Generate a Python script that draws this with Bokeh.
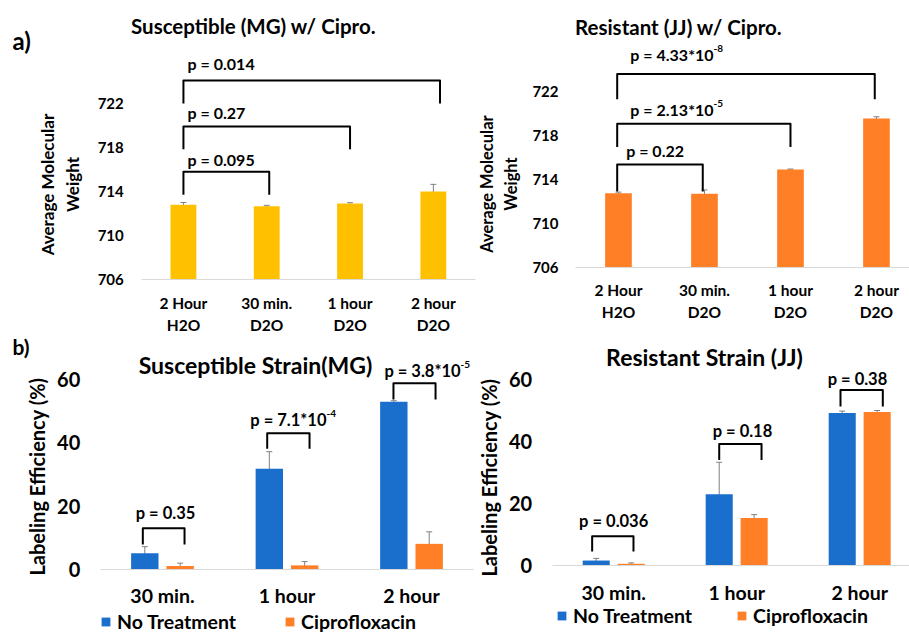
from bokeh.plotting import figure
from bokeh.models import (ColumnDataSource, Whisker, TeeHead, Label, Legend, LegendItem,
                          FixedTicker, Range1d)
from bokeh.layouts import column, row
from bokeh.embed import file_html
from bokeh.resources import INLINE
from bokeh.core.properties import value

FONT = "Lato"
YELLOW = "#FFC000"
ORANGE = "#FF7F27"
BLUE = "#1B6FCC"
ERRC = "#808080"

# ---------------- data ----------------
cats_a = ["2 Hour\nH2O", "30 min.\nD2O", "1 hour\nD2O", "2 hour\nD2O"]
mg_mw = [712.8, 712.65, 712.9, 714.0]
mg_mw_err = [0.2, 0.09, 0.08, 0.65]
jj_mw = [712.75, 712.7, 714.9, 719.55]
jj_mw_err = [0.1, 0.35, 0.05, 0.15]
mw_ticks = [706, 710, 714, 718, 722]

cats_b = ["30 min.", "1 hour", "2 hour"]
mg_none = [5.1, 31.8, 53.0]
mg_none_err = [2.1, 5.4, 0.3]
mg_cipro = [1.1, 1.3, 8.1]
mg_cipro_err = [0.9, 1.2, 3.8]
jj_none = [1.6, 23.0, 49.2]
jj_none_err = [0.7, 10.3, 0.6]
jj_cipro = [0.55, 15.3, 49.5]
jj_cipro_err = [0.3, 1.1, 0.5]
eff_ticks = [0, 20, 40, 60]
series_b = ["No Treatment", "Ciprofloxacin"]

# p-values
mg_mw_p = ["p = 0.095", "p = 0.27", "p = 0.014"]
jj_mw_p = ["p = 0.22", "p = 2.13*10", "p = 4.33*10"]
jj_mw_p_exp = ["", "-5", "-8"]
mg_eff_p = ["p = 0.35", "p = 7.1*10", "p = 3.8*10"]
mg_eff_p_exp = ["", "-4", "-5"]
jj_eff_p = ["p = 0.036", "p = 0.18", "p = 0.38"]

# ---------------- annotation geometry (data units) ----------------
mg_mw_br = dict(x0=[0.0, 0.0, 0.0], x1=[1.03, 2.0, 3.08],
                top=[715.8, 719.9, 724.1], foot=[713.7, 717.85, 722.0])
mg_mw_txt = dict(x=[0.05, 0.05, 0.05], y=[716.9, 721.2, 725.6])
jj_mw_br = dict(x0=[-0.015, -0.015, -0.015], x1=[0.98, 2.0, 2.98],
                top=[715.36, 719.06, 723.6], foot=[712.9, 716.95, 721.3])
jj_mw_txt = dict(x=[0.09, 1.105, 1.105], y=[716.6, 720.36, 725.36])
mg_eff_br = dict(x0=[-0.158, 0.841, 1.855], x1=[0.177, 1.181, 2.193],
                 top=[13.0, 43.0, 58.8], foot=[7.9, 38.1, 53.7])
mg_eff_txt = dict(x=[0.024, 1.317, 2.394], y=[17.7, 47.3, 62.8])
jj_eff_br = dict(x0=[-0.175, 0.858, 1.844], x1=[0.161, 1.202, 2.188],
                 top=[9.4, 39.2, 56.6], foot=[4.5, 34.0, 51.3])
jj_eff_txt = dict(x=[0.0, 1.047, 1.982], y=[14.2, 43.5, 60.3])


def make_fig(w, h, xr, yr, x_base, y_base, x_bounds, y_bounds, cats, ticks, tick_fs, xl_fs,
             ylab, ylab_fs, y_standoff, x_standoff, ylab_standoff):
    p = figure(width=w, height=h, x_range=Range1d(*xr), y_range=Range1d(*yr),
               output_backend="svg", toolbar_location=None, tools="",
               min_border_left=0, min_border_right=0, min_border_top=0, min_border_bottom=0)
    p.outline_line_color = None
    p.grid.visible = False
    p.background_fill_color = "white"
    p.border_fill_color = "white"
    xa = p.xaxis[0]
    xa.fixed_location = y_base
    xa.bounds = x_bounds
    xa.ticker = FixedTicker(ticks=list(range(len(cats))))
    xa.major_label_overrides = {i: c for i, c in enumerate(cats)}
    xa.major_tick_line_color = None
    xa.minor_tick_line_color = None
    xa.major_tick_out = 0
    xa.major_tick_in = 0
    xa.axis_line_color = "#D9D9D9"
    xa.axis_line_width = 1
    xa.major_label_standoff = x_standoff
    xa.major_label_text_font = FONT
    xa.major_label_text_font_style = "bold"
    xa.major_label_text_font_size = xl_fs
    xa.major_label_text_color = "black"
    ya = p.yaxis[0]
    ya.fixed_location = x_base
    ya.bounds = y_bounds
    ya.ticker = FixedTicker(ticks=ticks)
    ya.major_tick_line_color = None
    ya.minor_tick_line_color = None
    ya.major_tick_out = 0
    ya.major_tick_in = 0
    ya.axis_line_color = None
    ya.major_label_standoff = y_standoff
    ya.major_label_text_font = FONT
    ya.major_label_text_font_style = "bold"
    ya.major_label_text_font_size = tick_fs
    ya.major_label_text_color = "black"
    ya.axis_label = ylab
    ya.axis_label_text_font = FONT
    ya.axis_label_text_font_style = "bold"
    ya.axis_label_text_font_size = ylab_fs
    ya.axis_label_text_color = "black"
    ya.axis_label_standoff = ylab_standoff
    return p


def add_errors(p, xs, vals, errs):
    src = ColumnDataSource(dict(x=xs, upper=[v + e for v, e in zip(vals, errs)],
                                lower=[v - e for v, e in zip(vals, errs)]))
    w = Whisker(source=src, base="x", upper="upper", lower="lower",
                line_color=ERRC, line_width=1,
                upper_head=TeeHead(size=6, line_color=ERRC, line_width=1),
                lower_head=TeeHead(size=6, line_color=ERRC, line_width=1))
    p.add_layout(w)


def add_brackets(p, br):
    xs = [[a, a, b, b] for a, b in zip(br["x0"], br["x1"])]
    ys = [[f, t, t, f] for f, t in zip(br["foot"], br["top"])]
    p.multi_line(xs=xs, ys=ys, line_color="black", line_width=2, line_join="round")


def add_ptext(p, txt, labels, exps, fs, align_default):
    for x, y, lab, ex in zip(txt["x"], txt["y"], labels, exps):
        if ex:
            p.text(x=[x], y=[y], text=[lab], text_font=value(FONT), text_font_style="bold",
                   text_font_size=fs, text_align="right", text_baseline="middle",
                   text_color="black")
            p.text(x=[x], y=[y], text=[ex], text_font=value(FONT), text_font_style="bold",
                   text_font_size="10px", text_align="left", text_baseline="middle",
                   y_offset=-6, text_color="black")
        else:
            p.text(x=[x], y=[y], text=[lab], text_font=value(FONT), text_font_style="bold",
                   text_font_size=fs, text_align=align_default, text_baseline="middle",
                   text_color="black")


def add_label(p, x, y, text, fs, align="center"):
    p.add_layout(Label(x=x, y=y, x_units="screen", y_units="screen", text=text,
                       text_font=FONT, text_font_style="bold", text_font_size=fs,
                       text_align=align, text_baseline="middle", text_color="black"))


# ---------------- panel a (left) ----------------
idx_a = list(range(len(cats_a)))
a1 = make_fig(476, 333, (-2.196, 3.518), (701.09, 731.364), -0.5, 706, (-0.5, 3.5),
              (705, 724.28), cats_a, mw_ticks, "15px", "15.5px",
              "Average Molecular\nWeight", "17px", 18, 15, 11)
a1.vbar(x=idx_a, top=mg_mw, bottom=706, width=0.31, fill_color=YELLOW, line_color=None)
add_errors(a1, idx_a, mg_mw, mg_mw_err)
add_brackets(a1, mg_mw_br)
add_ptext(a1, mg_mw_txt, mg_mw_p, ["", "", ""], "16px", "left")
add_label(a1, 253, 308, "Susceptible (MG) w/ Cipro.", "20.5px")
add_label(a1, 12, 293, "a)", "24px", align="left")

# ---------------- panel a (right) ----------------
a2 = make_fig(433, 333, (-1.651, 3.384), (700.0, 730.27), -0.5, 706, (-0.5, 3.384),
              (704, 723.18), cats_a, mw_ticks, "15px", "15.5px",
              "Average Molecular\nWeight", "16.5px", 17, 14, 8)
a2.vbar(x=idx_a, top=jj_mw, bottom=706, width=0.31, fill_color=ORANGE, line_color=None)
add_errors(a2, idx_a, jj_mw, jj_mw_err)
add_brackets(a2, jj_mw_br)
add_ptext(a2, jj_mw_txt, jj_mw_p, jj_mw_p_exp, "16px", "left")
add_label(a2, 202, 307, "Resistant (JJ) w/ Cipro.", "20.5px")

# ---------------- panel b ----------------
idx_b = list(range(len(cats_b)))
dx = 0.142
bw = 0.22


def eff_panel(w, xr, yr, x_bounds, y_bounds, none, none_err, cipro, cipro_err, br, txt,
              plabs, pexp, title, tx, ty, leg_loc, leg_spacing):
    p = make_fig(w, 299, xr, yr, -0.5, 0, x_bounds, y_bounds, cats_b,
                 eff_ticks, "20px", "19.5px", "Labeling Efficiency (%)", "20px", 20, 15, 5)
    xn = [i - dx for i in idx_b]
    xc = [i + dx for i in idx_b]
    r1 = p.vbar(x=xn, top=none, width=bw, fill_color=BLUE, line_color=None)
    r2 = p.vbar(x=xc, top=cipro, width=bw, fill_color=ORANGE, line_color=None)
    add_errors(p, xn, none, none_err)
    add_errors(p, xc, cipro, cipro_err)
    add_brackets(p, br)
    add_ptext(p, txt, plabs, pexp, "16.5px", "center")
    add_label(p, tx, ty, title, "23px")
    leg = Legend(items=[LegendItem(label=series_b[0], renderers=[r1]),
                        LegendItem(label=series_b[1], renderers=[r2])],
                 orientation="horizontal", location=leg_loc, padding=0, margin=0,
                 spacing=leg_spacing, label_standoff=6, glyph_width=11, glyph_height=11,
                 label_height=20, border_line_color=None, background_fill_alpha=0,
                 label_text_font=FONT, label_text_font_style="bold",
                 label_text_font_size="19.5px", label_text_color="black")
    p.add_layout(leg)
    return p


b1 = eff_panel(478, (-1.301, 2.538), (-19.895, 74.526), (-0.5, 2.5), (-5, 63.8),
               mg_none, mg_none_err, mg_cipro, mg_cipro_err, mg_eff_br, mg_eff_txt,
               mg_eff_p, mg_eff_p_exp, "Susceptible Strain(MG)", 255, 268, (100, -1), 48)
add_label(b1, 12, 286, "b)", "21px", align="left")
b2 = eff_panel(431, (-1.099, 2.405), (-21.61, 74.839), (-0.5, 2.405), (-5, 61.8),
               jj_none, jj_none_err, jj_cipro, jj_cipro_err, jj_eff_br, jj_eff_txt,
               jj_eff_p, ["", "", ""], "Resistant Strain (JJ)", 226, 276, (78, 5), 44)

layout = column(row(a1, a2), row(b1, b2))
open("out.html", "w").write(file_html(layout, INLINE))
